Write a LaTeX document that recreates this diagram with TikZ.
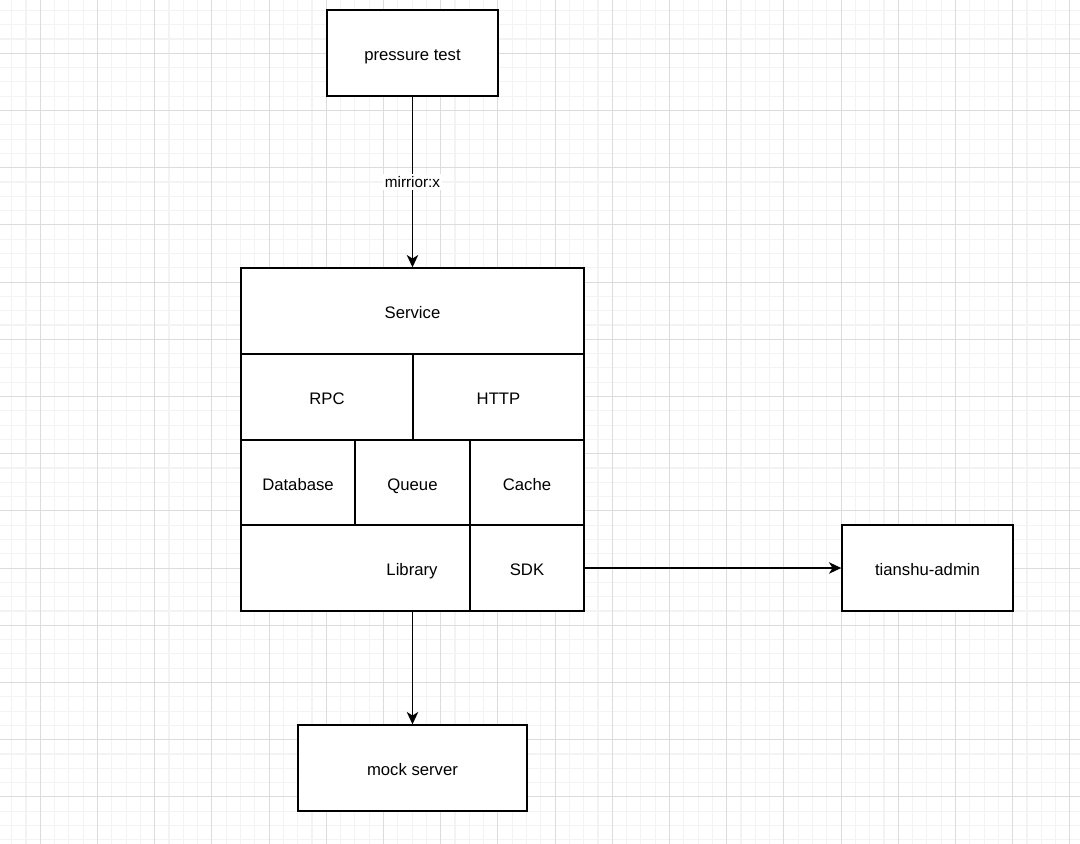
\documentclass[tikz,border=0pt]{standalone}
\usepackage{fontspec}
\setmainfont{Liberation Sans}
\usetikzlibrary{arrows.meta}
\definecolor{gminor}{HTML}{F3F3F3}
\definecolor{gmajor}{HTML}{DCDCDC}
\begin{document}
\begin{tikzpicture}[x=0.02cm,y=-0.02cm,
 box/.style={draw=black, line width=0.8pt, inner sep=0pt, fill=white, text height=8.8pt, text depth=0pt, font=\fontsize{9.5}{11}\selectfont},
 sz/.style 2 args={minimum width={#1*0.02cm}, minimum height={#2*0.02cm}},
 txt/.style={inner sep=0pt, text height=8.8pt, text depth=0pt, font=\fontsize{9.5}{11}\selectfont},
 conn/.style={line width=0.8pt, -{Stealth[length=7pt,width=6.5pt,inset=2pt]}},
 lbl/.style={fill=white, inner sep=1.2pt, font=\fontsize{8.7}{10}\selectfont},
 gmin/.style={draw=gminor, line width=0.6pt},
 gmaj/.style={draw=gmajor, line width=0.6pt}]
\useasboundingbox (0,0) rectangle (1080,844);
\fill[white] (0,0) rectangle (1080,844);
% grid
\foreach \i in {0,...,75} {\pgfmathsetmacro\xx{11.7+14.3*\i}\draw[gmin] (\xx,0) -- (\xx,844);}
\foreach \i in {0,...,58} {\pgfmathsetmacro\yy{10.4+14.3*\i}\draw[gmin] (0,\yy) -- (1080,\yy);}
\foreach \i in {0,...,18} {\pgfmathsetmacro\xx{40.3+57.2*\i}\draw[gmaj] (\xx,0) -- (\xx,844);}
\foreach \i in {1,...,14} {\pgfmathsetmacro\yy{-3.9+57.2*\i}\draw[gmaj] (0,\yy) -- (1080,\yy);}
% boxes
\node[box, sz={171}{86}] (pt) at (412.5,53) {pressure test};
\node[box, sz={343}{343}] (blk) at (412.5,439.5) {};
\node[box, sz={343}{86}] (svc) at (412.5,311) {Service};
\node[box, sz={172}{86}] (rpc) at (327,397) {RPC};
\node[box, sz={171}{86}] (http) at (498.5,397) {HTTP};
\node[box, sz={114}{85}] (db) at (298,482.5) {Database};
\node[box, sz={115}{85}] (queue) at (412.5,482.5) {Queue};
\node[box, sz={114}{85}] (cache) at (527,482.5) {Cache};
\node[box, sz={229}{86}] (lib) at (355.5,568) {};
\node[txt] (libtxt) at (412,568) {Library};
\node[box, sz={114}{86}] (sdk) at (527,568) {SDK};
\node[box, sz={171}{86}] (ta) at (927.5,568) {tianshu-admin};
\node[box, sz={229}{86}] (ms) at (412.5,768) {mock server};
% connectors
\draw[conn] (pt.south) -- node[lbl] {mirrior:x} (svc.north);
\draw[conn] (sdk.east) -- (ta.west);
\draw[conn] (blk.south) -- (ms.north);
\end{tikzpicture}
\end{document}
